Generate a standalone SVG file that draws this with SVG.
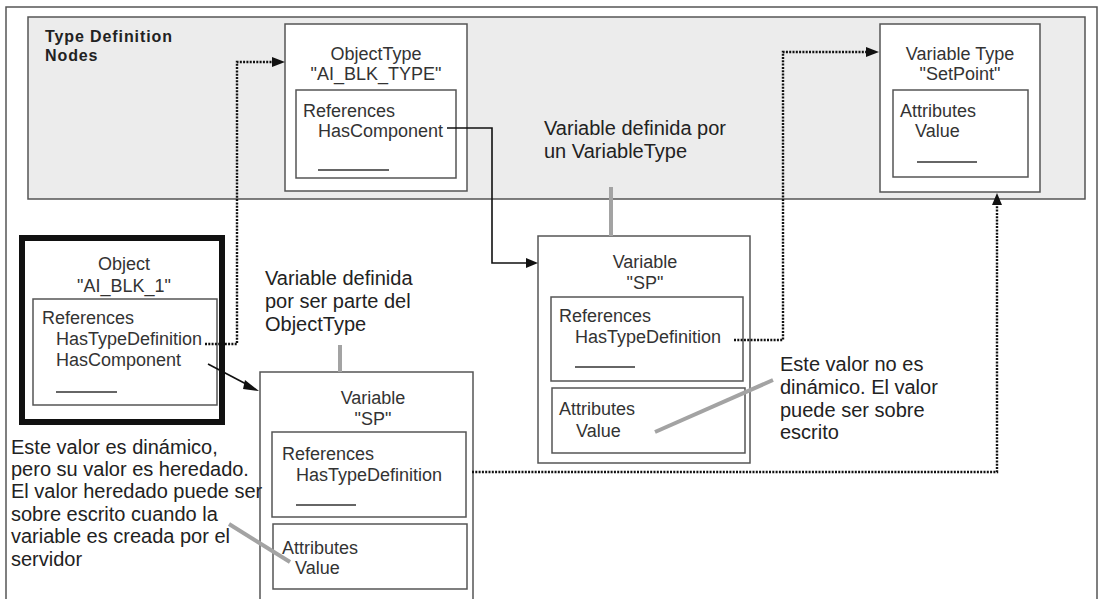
<svg xmlns="http://www.w3.org/2000/svg" width="1101" height="599" viewBox="0 0 1101 599">
<style>
.box{fill:#fff;stroke:#555;stroke-width:1.5}
.t{font-family:"Liberation Sans",Arial,sans-serif;font-size:18px;fill:#333}
.c{text-anchor:middle}
.a{font-family:"Liberation Sans",Arial,sans-serif;font-size:20px;fill:#222}
.ttl{font-family:"Liberation Sans",Arial,sans-serif;font-size:16px;font-weight:bold;letter-spacing:0.9px;fill:#222}
.u{stroke:#333;stroke-width:1.3}
.solid{fill:none;stroke:#111;stroke-width:1.6}
.dot{fill:none;stroke:#111;stroke-width:2.4;stroke-dasharray:2 1.3}
.call{fill:none;stroke:#a3a3a3;stroke-width:4}
</style>
<rect x="6" y="7" width="1091" height="620" fill="#fff" stroke="#555" stroke-width="1.5"/>
<rect x="28" y="17" width="1057" height="182" fill="#ececec" stroke="#555" stroke-width="1.5"/>
<g id="title">
<text class="ttl" x="45" y="42">Type Definition</text>
<text class="ttl" x="45" y="61">Nodes</text>
</g>
<g id="objecttype">
<rect class="box" x="285" y="24" width="182" height="167"/>
<rect class="box" x="296" y="90" width="160" height="88"/>
<text class="t c" x="376" y="60">ObjectType</text>
<text class="t c" x="376" y="80">"AI_BLK_TYPE"</text>
<text class="t" x="303" y="117">References</text>
<text class="t" x="318" y="137">HasComponent</text>
<line class="u" x1="318" y1="170" x2="389" y2="170"/>
</g>
<g id="variabletype">
<rect class="box" x="880" y="24" width="160" height="168"/>
<rect class="box" x="893" y="90" width="135" height="87"/>
<text class="t c" x="960" y="60">Variable Type</text>
<text class="t c" x="960" y="80">"SetPoint"</text>
<text class="t" x="900" y="117">Attributes</text>
<text class="t" x="915" y="137">Value</text>
<line class="u" x1="917" y1="162" x2="977" y2="162"/>
</g>
<g id="object">
<rect x="22" y="238" width="200" height="184" fill="#fff" stroke="#111" stroke-width="6"/>
<rect class="box" x="33" y="299" width="184" height="106"/>
<text class="t c" x="124" y="270">Object</text>
<text class="t c" x="124" y="292">"AI_BLK_1"</text>
<text class="t" x="42" y="324">References</text>
<text class="t" x="56" y="345">HasTypeDefinition</text>
<text class="t" x="56" y="366">HasComponent</text>
<line class="u" x1="56" y1="392" x2="117" y2="392"/>
</g>
<g id="variable-sp-instance">
<rect class="box" x="260" y="372" width="213" height="240"/>
<rect class="box" x="272" y="432" width="194" height="85"/>
<rect class="box" x="273" y="524" width="194" height="65"/>
<text class="t c" x="373" y="404">Variable</text>
<text class="t c" x="373" y="425">"SP"</text>
<text class="t" x="282" y="460">References</text>
<text class="t" x="296" y="481">HasTypeDefinition</text>
<line class="u" x1="296" y1="505" x2="356" y2="505"/>
<text class="t" x="282" y="554">Attributes</text>
<text class="t" x="295" y="574">Value</text>
</g>
<g id="variable-sp-type">
<rect class="box" x="538" y="236" width="212" height="227"/>
<rect class="box" x="551" y="297" width="192" height="84"/>
<rect class="box" x="552" y="388" width="193" height="65"/>
<text class="t c" x="645" y="268">Variable</text>
<text class="t c" x="645" y="289">"SP"</text>
<text class="t" x="559" y="322">References</text>
<text class="t" x="575" y="343">HasTypeDefinition</text>
<line class="u" x1="575" y1="367" x2="635" y2="367"/>
<text class="t" x="559" y="415">Attributes</text>
<text class="t" x="576" y="437">Value</text>
</g>
<g id="notes">
<text class="a" x="544" y="135">Variable definida por</text>
<text class="a" x="544" y="158">un VariableType</text>
<text class="a" x="265" y="285">Variable definida</text>
<text class="a" x="265" y="308">por ser parte del</text>
<text class="a" x="265" y="331">ObjectType</text>
<text class="a" x="780" y="371">Este valor no es</text>
<text class="a" x="780" y="394">dinámico. El valor</text>
<text class="a" x="780" y="417">puede ser sobre</text>
<text class="a" x="780" y="439">escrito</text>
<text class="a" x="11" y="454">Este valor es dinámico,</text>
<text class="a" x="11" y="476">pero su valor es heredado.</text>
<text class="a" x="11" y="498">El valor heredado puede ser</text>
<text class="a" x="11" y="521">sobre escrito cuando la</text>
<text class="a" x="11" y="543">variable es creada por el</text>
<text class="a" x="11" y="566">servidor</text>
</g>
<g id="connectors">
<polyline class="dot" points="205,344 237,344 237,62 272,62"/>
<polygon points="272,57 285,62 272,67" fill="#111"/>
<polyline class="solid" points="447,128 492,128 492,263 526,263"/>
<polygon points="526,258 538,263 526,268" fill="#111"/>
<line class="solid" x1="208" y1="364" x2="248" y2="385"/>
<polygon points="245,380 259,391 243,389" fill="#111"/>
<polyline class="dot" points="734,340 783,340 783,52 866,52"/>
<polygon points="866,47 879,52 866,57" fill="#111"/>
<polyline class="dot" points="472,472 997,472 997,205"/>
<polygon points="992,205 997,193 1002,205" fill="#111"/>
<line class="call" x1="611" y1="187" x2="611" y2="236"/>
<line class="call" x1="340" y1="345" x2="340" y2="372"/>
<line class="call" x1="773" y1="380" x2="655" y2="432"/>
<line class="call" x1="229" y1="524" x2="290" y2="562"/>
</g>
</svg>
